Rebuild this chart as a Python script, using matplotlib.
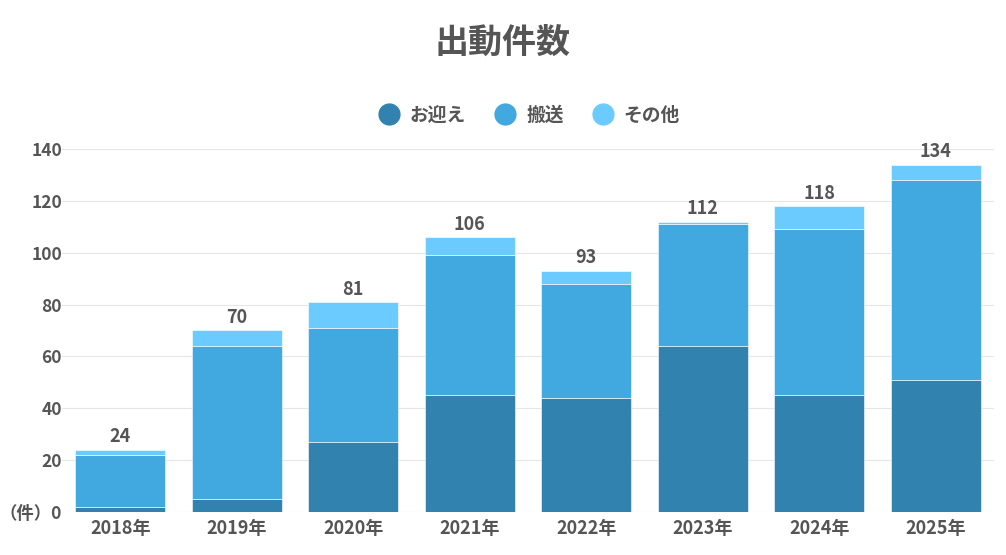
import matplotlib
matplotlib.use('Agg')
import matplotlib.pyplot as plt
from matplotlib.lines import Line2D
import numpy as np

plt.rcParams['font.family'] = ['Noto Sans CJK JP', 'DejaVu Sans']

years = ['2018年', '2019年', '2020年', '2021年', '2022年', '2023年', '2024年', '2025年']
omukae = [2, 5, 27, 45, 44, 64, 45, 51]
hanso = [20, 59, 44, 54, 44, 47, 64, 77]
sonota = [2, 6, 10, 7, 5, 1, 9, 6]
series_names = ['お迎え', '搬送', 'その他']
colors = ['#3182ae', '#41a8e0', '#6bcbff']
text_color = '#555555'

fig = plt.figure(figsize=(10.06, 5.55), dpi=100)
ax = fig.add_axes([62 / 1006, 1 - 512 / 555, 932 / 1006, 363 / 555])

x = np.arange(len(years))
bottom = np.zeros(len(years))
for vals, name, c in zip([omukae, hanso, sonota], series_names, colors):
    ax.bar(x, vals, width=0.77, bottom=bottom, color=c, label=name,
           edgecolor='white', linewidth=0.4, zorder=3)
    bottom = bottom + np.array(vals)

for xi, tot in zip(x, bottom):
    ax.text(xi, tot + 1.3, f'{int(tot)}', ha='center', va='bottom',
            fontsize=13, fontweight='bold', color=text_color)

ax.set_xlim(-0.5, len(years) - 0.5)
ax.set_ylim(0, 140)
yticks = list(range(0, 141, 20))
ax.set_yticks(yticks)
ax.set_yticklabels(['（件）0'] + [str(v) for v in yticks[1:]])
ax.set_xticks(x)
ax.set_xticklabels(years)
ax.tick_params(axis='x', length=0, labelsize=13, labelcolor=text_color, pad=5)
ax.tick_params(axis='y', length=0, labelsize=12.5, labelcolor=text_color, pad=0)
for lab in ax.get_xticklabels() + ax.get_yticklabels():
    lab.set_fontweight('bold')
ax.grid(axis='y', color='#e6e6e6', linewidth=0.8, zorder=0)
for s in ax.spines.values():
    s.set_visible(False)

fig.text(0.5, 1 - 42 / 555, '出動件数', ha='center', va='center',
         fontsize=24.5, fontweight='bold', color=text_color)

handles = [Line2D([], [], marker='o', linestyle='', markersize=15, color=c) for c in colors]
fig.legend(handles, series_names, loc='center', bbox_to_anchor=(0.522, 1 - 115 / 555), ncol=3,
           frameon=False, handletextpad=0.1, columnspacing=1.1,
           prop={'size': 13.5, 'weight': 'bold'}, labelcolor=text_color)

fig.savefig('out.png', dpi=100)
